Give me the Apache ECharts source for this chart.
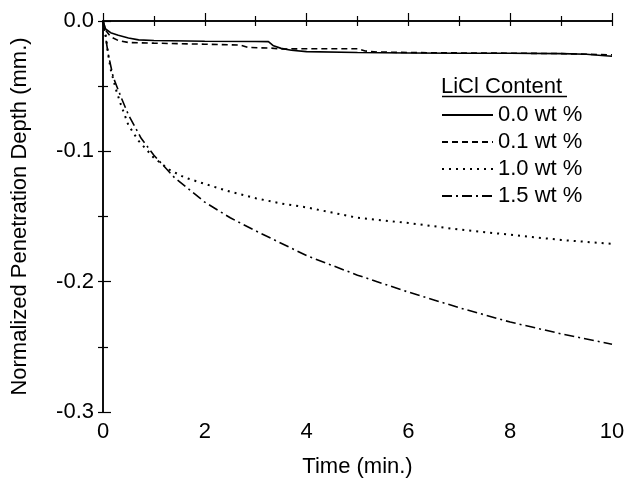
<!DOCTYPE html>
<html><head><meta charset="utf-8">
<script src="https://cdn.jsdelivr.net/npm/echarts@6/dist/echarts.min.js"></script>
<style>html,body{margin:0;padding:0;background:#fff}#c{width:628px;height:483px}</style>
</head><body><div id="c"></div>
<script>
const legendTitle = 'LiCl Content';
const seriesNames = ['0.0 wt %', '0.1 wt %', '1.0 wt %', '1.5 wt %'];
const xTicks = [0, 2, 4, 6, 8, 10];
const yTicks = [0.0, -0.1, -0.2, -0.3];

const t00 = [0, 0.05, 0.15, 0.3, 0.5, 0.7, 1.0, 2.0, 3.0, 3.25, 3.35, 3.5, 3.7, 4.0, 5, 6, 7, 8, 9, 9.5, 9.8, 10];
const v00 = [0, -0.006, -0.009, -0.011, -0.013, -0.0145, -0.015, -0.0155, -0.0157, -0.0158, -0.019, -0.021, -0.0225, -0.0235, -0.0242, -0.0245, -0.0247, -0.0248, -0.025, -0.0255, -0.0265, -0.027];

const t01 = [0, 0.05, 0.15, 0.3, 0.5, 1, 2, 2.7, 2.85, 3.3, 3.5, 4, 5.0, 5.15, 5.4, 6, 7, 8, 9, 10];
const v01 = [0, -0.007, -0.012, -0.015, -0.0165, -0.017, -0.0178, -0.0185, -0.0203, -0.0208, -0.0215, -0.0213, -0.0213, -0.023, -0.0238, -0.0242, -0.0245, -0.0247, -0.025, -0.026];

const t10 = [0, 0.05, 0.1, 0.15, 0.25, 0.35, 0.5, 0.7, 1.0, 1.3, 1.6, 2, 2.5, 3, 3.5, 4, 4.5, 5, 5.5, 6, 7, 8, 9, 10];
const v10 = [0, -0.01, -0.025, -0.037, -0.052, -0.064, -0.08, -0.092, -0.105, -0.114, -0.12, -0.125, -0.131, -0.136, -0.140, -0.143, -0.147, -0.151, -0.153, -0.155, -0.160, -0.164, -0.168, -0.171];

const t15 = [0, 0.05, 0.1, 0.2, 0.35, 0.5, 0.75, 1.0, 1.4, 2, 2.5, 3, 4, 5, 6, 7, 8, 9, 10];
const v15 = [0, -0.012, -0.025, -0.043, -0.058, -0.072, -0.09, -0.103, -0.12, -0.139, -0.151, -0.161, -0.180, -0.195, -0.208, -0.220, -0.231, -0.240, -0.248];

const FONT = 'Liberation Sans, Arial, sans-serif';
const FS = 22;
const zip = (a, b) => a.map((x, i) => [x, b[i]]);
const lineTypes = ['solid', [6, 4], [2, 5], [10, 4, 2, 4]];
const lineWidths = [1.6, 1.6, 2, 1.6];
const allData = [zip(t00, v00), zip(t01, v01), zip(t10, v10), zip(t15, v15)];

const chart = echarts.init(document.getElementById('c'), null, {renderer: 'canvas'});
const axisLine = {show: true, lineStyle: {color: '#000', width: 1.5}};
const option = {
  animation: false,
  backgroundColor: '#fff',
  grid: {left: 103, right: 16, top: 21, bottom: 70, containLabel: false},
  xAxis: [{
    type: 'value', min: 0, max: 10, interval: 2,
    name: 'Time (min.)', nameLocation: 'middle', nameGap: 44,
    nameTextStyle: {fontFamily: FONT, fontSize: FS, color: '#000'},
    axisLine: axisLine,
    axisTick: {show: true, inside: true, length: 8, lineStyle: {color: '#000', width: 1.2}},
    minorTick: {show: true, splitNumber: 2, length: 5, lineStyle: {color: '#000', width: 1.2}},
    axisLabel: {fontFamily: FONT, fontSize: FS, color: '#000', margin: 9,
      formatter: v => xTicks.includes(v) ? String(v) : ''},
    splitLine: {show: false}
  }, {
    type: 'value', min: 0, max: 10, interval: 1, position: 'top',
    axisLine: axisLine,
    axisTick: {show: true, inside: true, length: 5, lineStyle: {color: '#000', width: 1.2}},
    axisLabel: {show: false}, splitLine: {show: false}
  }],
  yAxis: [{
    type: 'value', min: -0.3, max: 0, interval: 0.1,
    name: 'Normalized Penetration Depth (mm.)', nameLocation: 'middle', nameGap: 72,
    nameTextStyle: {fontFamily: FONT, fontSize: FS, color: '#000'},
    axisLine: axisLine,
    axisTick: {show: true, inside: true, length: 8, lineStyle: {color: '#000', width: 1.2}},
    minorTick: {show: true, splitNumber: 2, length: 5, lineStyle: {color: '#000', width: 1.2}},
    axisLabel: {fontFamily: FONT, fontSize: FS, color: '#000', margin: 9,
      formatter: v => v.toFixed(1)},
    splitLine: {show: false}
  }, {
    type: 'value', min: -0.3, max: 0, interval: 0.05, position: 'right',
    axisLine: axisLine,
    axisTick: {show: true, inside: true, length: 5, lineStyle: {color: '#000', width: 1.2}},
    axisLabel: {show: false}, splitLine: {show: false}
  }],
  legend: {
    orient: 'vertical', left: 441, top: 104, padding: 0,
    itemWidth: 51, itemHeight: 14, itemGap: 5,
    itemStyle: {opacity: 0, borderWidth: 0},
    textStyle: {fontFamily: FONT, fontSize: FS, color: '#000', lineHeight: 22},
    data: seriesNames
  },
  title: {
    text: legendTitle, left: 441, top: 76, padding: 0,
    textStyle: {fontFamily: FONT, fontSize: FS, fontWeight: 'normal', color: '#000'}
  },
  graphic: [{
    type: 'line', shape: {x1: 442, y1: 96.5, x2: 567, y2: 96.5},
    style: {stroke: '#000', lineWidth: 1.5}
  }],
  series: allData.map((d, i) => ({
    name: seriesNames[i], type: 'line', data: d, showSymbol: false, symbol: 'none',
    xAxisIndex: 0, yAxisIndex: 0,
    lineStyle: {color: '#000', width: lineWidths[i], type: lineTypes[i]},
    itemStyle: {color: '#000'}
  }))
};
chart.setOption(option);
</script></body></html>
